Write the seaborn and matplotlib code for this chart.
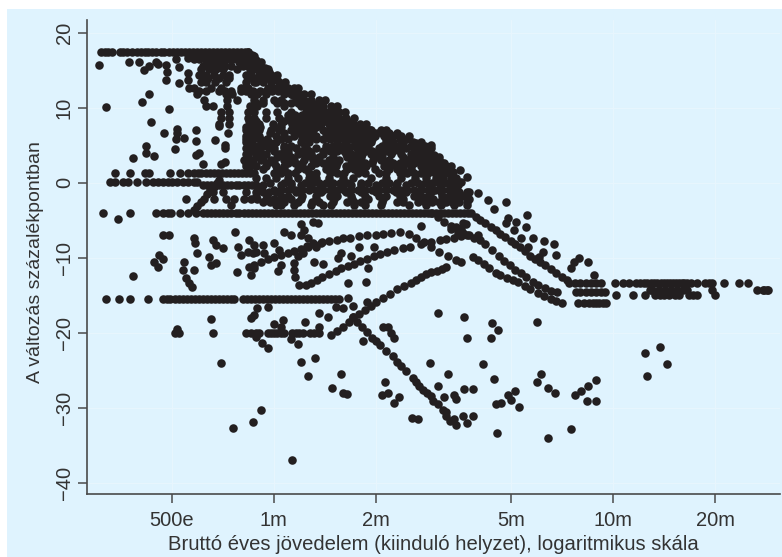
import pandas as pd
import matplotlib.pyplot as plt
from matplotlib.patches import Rectangle
from matplotlib.ticker import NullLocator
import seaborn as sns

# income in million Ft, change in percentage points

# points sitting on flat levels: one level, one list of incomes
flat_levels = [17.5, 1.3, 0.1, -4.0, -15.5, -20.0, -13.3, -14.5, -16.0, -14.9, -14.3]
flat_incomes = [
    [.31, .317, .325, .334, .351, .36, .37, .383, .394, .405, .416, .427, .439, .451, .464, .476, .49, .503, .517,
     .531, .546, .561, .576, .592, .609, .626, .643, .66, .679, .698, .717, .737, .757, .778, .8, .822, .838],
    [.341, .376, .416, .43, .495, .53, .557, .58, .596, .612, .63, .647, .665, .683, .702, .722, .742, .762, .783,
     .805, .827, .85, .873],
    [.33, .34, .36, .372, .394, .42, .44, .455, .47, .487, .5, .52, .54, .56, .58, .595],
    [.313, .376, .45, .47, .487, .497, .53, .557, .59, .62, .637, .655, .673, .691, .71, .73, .75, .771, .792, .814,
     .837, .86, .884, .908, .933, .959, .985, 1.012, 1.04, 1.069, 1.099, 1.129, 1.16, 1.192, 1.225, 1.259, 1.294,
     1.33, 1.367, 1.404, 1.443, 1.483, 1.524, 1.566, 1.609, 1.654, 1.7, 1.747, 1.795, 1.844, 1.895, 1.948, 2.0, 2.06,
     2.11, 2.17, 2.23, 2.29, 2.36, 2.42, 2.49, 2.56, 2.63, 2.7, 2.77, 2.85, 2.93, 3.01, 3.09, 3.18, 3.26, 3.35, 3.44,
     3.54, 3.64, 3.74],
    [.32, .35, .376, .425, .47, .483, .496, .51, .524, .539, .553, .569, .584, .6, .617, .634, .652, .67, .688, .707,
     .727, .747, .762, .81, .832, .855, .879, .903, .928, .954, .98, 1.007, 1.035, 1.063, 1.093, 1.123, 1.154, 1.186,
     1.219, 1.252, 1.287, 1.323, 1.359, 1.397, 1.435, 1.475, 1.516, 1.558],
    [.51, .525, .66, .83, .855, .885, .903, .96, .98, 1.0, 1.02, 1.05, 1.07, 1.13, 1.16, 1.19, 1.22, 1.28, 1.31, 1.36],
    [7.4, 7.7, 8.0, 8.3, 8.6, 8.9, 9.2, 10.1, 10.7, 11.1, 11.7, 12.0, 12.3, 12.6, 12.9, 13.2, 13.5, 13.8, 14.1, 14.4,
     14.7, 15.0, 15.3, 15.6, 15.9, 16.2, 16.5, 16.9, 17.6, 18.6, 19.1, 19.6, 21.2, 23.4, 24.9],
    [7.75, 8.0, 8.3, 8.6, 8.9, 9.2, 9.45],
    [7.9, 8.2, 8.5, 8.7, 8.9, 9.1, 9.3, 9.5],
    [10.2, 11.4, 12.4, 13.3, 13.7, 14.1, 14.6, 15.2, 15.6, 16.7, 17.2, 17.7, 20.0],
    [12.8, 13.0, 13.6, 14.2, 14.8, 15.4, 16.0, 16.5, 19.6, 26.5, 27.7, 27.9, 28.3, 28.6],
]

# the dense wedge under the cap, scanned row by row
wedge_levels = [16.9, 16.1, 15.2, 14.4, 13.4, 12.7, 11.8, 11.1, 10.2, 9.5, 8.6, 7.9, 7.1, 6.2, 5.5, 4.6, 3.9, 3.1,
                2.2, 0.6, -0.3, -1.2, -2.1, -3.0,
                9.0, 7.5, 5.9, 4.2, 2.6, 1.3, -0.9, -1.7,
                10.6, 8.2, 6.6, 4.9, 3.5, 1.9, 0.0, -2.6,
                16.5, 15.6, 14.0, 12.2]
wedge_incomes = [
    [.609, .643, .674, .707, .737, .777, .816, .838, .873],
    [.63, .66, .688, .707, .788, .838, .885, .915],
    [.609, .643, .674, .707, .777, .85, .885, .928, .96],
    [.6, .63, .665, .707, .737, .827, .855, .903, .935, .98, 1.02],
    [.609, .63, .67, .722, .827, .873, .885, .928, .98, 1.034, 1.08],
    [.561, .58, .652, .698, .799, .838, .96, 1.0, 1.049, 1.1, 1.145, 1.18],
    [.592, .722, .755, .855, .893, .947, 1.07, 1.122, 1.177, 1.226, 1.286],
    [.622, .73, .777, .873, .928, 1.0, 1.05, 1.161, 1.226, 1.286, 1.358, 1.414],
    [.63, .66, .73, .85, .89, 1.07, 1.201, 1.268, 1.33, 1.395, 1.47, 1.53],
    [.7, .737, .838, .873, .947, 1.02, 1.12, 1.245, 1.29, 1.36, 1.42, 1.49, 1.555, 1.62],
    [.698, .737, .838, .873, .947, 1.034, 1.145, 1.201, 1.268, 1.33, 1.395, 1.473, 1.555, 1.632, 1.72],
    [.688, .737, .855, .903, .993, 1.049, 1.13, 1.201, 1.304, 1.376, 1.453, 1.534, 1.62, 1.71, 1.8, 1.87],
    [.827, .873, .903, .98, 1.034, 1.12, 1.2, 1.3, 1.395, 1.493, 1.577, 1.665, 1.758, 1.85, 1.934, 2.07, 2.14],
    [.827, .873, .905, 1.014, 1.145, 1.226, 1.33, 1.453, 1.524, 1.6, 1.688, 1.782, 1.88, 1.98, 2.11, 2.25, 2.37, 2.5],
    [.827, .855, .915, .967, 1.014, 1.201, 1.268, 1.534, 1.632, 1.734, 1.83, 1.934, 2.14, 2.25, 2.4, 2.57, 2.72],
    [.827, .855, .903, .967, 1.0, 1.07, 1.161, 1.243, 1.33, 1.577, 1.665, 1.758, 1.869, 2.04, 2.14, 2.29, 2.45, 2.62,
     2.81, 2.91],
    [.827, .838, .885, .947, 1.034, 1.049, 1.1, 1.177, 1.286, 1.395, 1.632, 1.688, 1.82, 1.934, 2.22, 2.37, 2.54,
     2.72, 2.87],
    [.816, .855, .915, .98, 1.07, 1.145, 1.226, 1.304, 1.453, 1.555, 1.71, 1.96, 2.07, 2.19, 2.45, 2.62, 2.81, 2.95,
     3.07],
    [.827, .885, .947, 1.014, 1.07, 1.286, 1.453, 1.524, 1.632, 1.87, 2.11, 2.29, 2.54, 2.72, 2.91, 3.07, 3.22, 3.33],
    [.885, .947, 1.014, 1.1, 1.177, 1.268, 1.33, 1.453, 1.598, 1.711, 1.934, 2.14, 2.37, 2.6, 2.81, 3.01, 3.16, 3.33,
     3.45],
    [.62, .637, .655, .673, .691, .71, .73, .75, .771, .792, .814, .837, .86, .884, .928, 1.049, 1.122, 1.2, 1.286,
     1.376, 1.473, 1.577, 1.688, 1.81, 2.0, 2.14, 2.29, 2.45, 2.72, 2.91, 3.11, 3.33, 3.5],
    [.66, .707, .827, .885, .928, .967, 1.014, 1.161, 1.376, 1.524, 1.632, 1.806, 2.0, 2.29, 2.45, 2.62, 2.91, 3.11,
     3.33, 3.52, 3.7],
    [.55, .665, .722, .762, .816, .855, .893, .947, 1.0, 1.122, 1.2, 1.33, 1.5, 1.7, 1.9, 2.1, 2.4, 2.7, 2.95, 3.2,
     3.45, 3.75],
    [.75, 1.014, 1.05, 1.145, 1.286, 1.395, 1.473, 1.72, 1.85, 2.07, 2.5, 2.8, 3.1, 3.4, 3.7],
    # second pass through the darkest part
    [1.1, 1.153, 1.209, 1.33, 1.395, 1.463, 1.534],
    [.827, .867, .909, 1.0, 1.049, 1.153, 1.209, 1.268, 1.33, 1.463, 1.534, 1.609, 1.687, 1.769, 1.856],
    [.827, .867, .909, .954, 1.049, 1.1, 1.209, 1.268, 1.33, 1.395, 1.463, 1.534, 1.609, 1.687, 1.769, 1.856, 1.946,
     2.14, 2.354, 2.469],
    [.867, .909, 1.0, 1.1, 1.209, 1.268, 1.395, 1.463, 1.534, 1.609, 1.769, 1.856, 1.946, 2.04, 2.14, 2.245, 2.354,
     2.589, 2.715, 2.847],
    [.827, .867, .954, 1.0, 1.1, 1.153, 1.209, 1.33, 1.395, 1.463, 1.534, 1.687, 1.769, 1.856, 1.946, 2.14, 2.245,
     2.354, 2.469, 2.589, 2.715, 2.847, 2.986, 3.13],
    [1.0, 1.049, 1.1, 1.153, 1.268, 1.33, 1.463, 1.534, 1.609, 1.769, 1.856, 2.04, 2.14, 2.354, 2.469, 2.589, 2.715,
     2.847, 2.986, 3.13, 3.28],
    [.909, 1.0, 1.049, 1.1, 1.153, 1.209, 1.268, 1.33, 1.395, 1.463, 1.534, 1.609, 1.687, 1.769, 1.856, 1.946, 2.04,
     2.14, 2.245, 2.354, 2.469, 2.589, 2.715, 2.847, 2.986, 3.13, 3.28, 3.44],
    [.885, .954, 1.049, 1.1, 1.209, 1.33, 1.463, 1.534, 1.687, 1.856, 2.04, 2.14, 2.354, 2.589, 2.715, 2.847, 3.13,
     3.28, 3.44, 3.61],
    # third pass, between the rows above
    [.888, .931, 1.024, 1.074, 1.126, 1.181, 1.238, 1.298, 1.362],
    [.847, .888, 1.074, 1.126, 1.181, 1.238, 1.298, 1.362, 1.428, 1.498, 1.571, 1.648],
    [.847, .888, .977, 1.074, 1.181, 1.238, 1.298, 1.428, 1.498, 1.571, 1.648, 1.728, 1.811, 1.9, 1.993, 2.089, 2.191,
     2.299],
    [.847, .888, .931, 1.074, 1.126, 1.238, 1.428, 1.498, 1.571, 1.648, 1.728, 1.811, 1.9, 2.089, 2.191, 2.299, 2.41,
     2.528, 2.651, 2.78],
    [.888, .931, 1.024, 1.126, 1.238, 1.298, 1.362, 1.498, 1.648, 1.728, 1.811, 1.993, 2.089, 2.41, 2.528, 2.651,
     2.78, 2.915, 3.058],
    [.847, .931, 1.024, 1.074, 1.181, 1.238, 1.428, 1.498, 1.648, 1.728, 1.811, 1.993, 2.191, 2.299, 2.41, 2.528,
     2.78, 2.915, 3.058, 3.205],
    [.977, 1.074, 1.126, 1.238, 1.298, 1.362, 1.428, 1.498, 1.571, 1.648, 1.811, 1.9, 2.089, 2.191, 2.299, 2.528,
     2.651, 2.78, 2.915, 3.058, 3.205, 3.359],
    [.931, .977, 1.024, 1.074, 1.181, 1.298, 1.362, 1.498, 1.648, 1.728, 1.811, 2.089, 2.299, 2.41, 2.651, 2.78,
     2.915, 3.058, 3.205, 3.359, 3.523, 3.697],
    # upper left of the wedge
    [.58, .6, .63, .652, .68, .71, .74, .76, .80, .82, .85],
    [.62, .65, .68, .72, .75, .81, .84, .87, .9],
    [.62, .64, .69, .74, .84, .87, .92, .96, 1.0],
    [.6, .63, .69, .72, .75, .8, .83, .87, .91, .95, .99, 1.03, 1.09, 1.13, 1.17],
]

# the bands that look like lines
band_income = {
    'cap_down': [.84, .86, .885, .91, .94, .965, .99, 1.02, 1.05, 1.08, 1.11, 1.14, 1.18, 1.21, 1.26, 1.32, 1.39,
                 1.47, 1.56, 1.66, 1.78, 1.92, 2.05, 2.22, 2.4, 2.62],
    'ramp': [.58, .595, .608, .622, .636, .65, .665, .68, .69],
    'line1': [3.8, 3.95, 4.05, 4.2, 4.35, 4.5, 4.65, 4.8, 5.0, 5.15, 5.3, 5.5, 5.7, 5.9, 6.1, 6.3, 6.55, 6.8, 7.05,
              7.3],
    'line2': [2.91, 3.04, 3.18, 3.33, 3.5, 3.7, 3.88, 4.05, 4.2, 4.4, 4.6, 4.75, 4.95, 5.15, 5.35, 5.55, 5.8, 6.0,
              6.3, 6.55, 6.85],
    'line3': [3.87, 4.0, 4.15, 4.3, 4.5, 4.65, 4.85, 5.05, 5.25, 5.5, 5.7, 6.0, 6.25, 6.55, 6.8, 7.05],
    'rise1': [.873, .915, .96, 1.0, 1.05, 1.1, 1.145, 1.2, 1.26, 1.32, 1.38, 1.45, 1.53, 1.6, 1.68, 1.78, 1.88, 2.0,
              2.1, 2.22, 2.35, 2.5, 2.62, 2.77, 2.91, 3.07, 3.25, 3.45, 3.57],
    'rise2': [1.24, 1.29, 1.34, 1.39, 1.45, 1.52, 1.58, 1.65, 1.72, 1.8, 1.88, 1.97, 2.06, 2.16, 2.26, 2.4, 2.52,
              2.72, 2.9, 3.09, 3.22, 3.4, 3.57, 3.75, 4.0],
    'rise3': [1.47, 1.53, 1.6, 1.66, 1.71, 1.78, 1.85, 1.93, 2.0, 2.1, 2.2, 2.3, 2.42, 2.54, 2.62, 2.72, 2.8, 2.91,
              3.02, 3.12, 3.22],
    'fall': [1.71, 1.76, 1.82, 1.88, 1.94, 2.0, 2.05, 2.14, 2.24, 2.3, 2.37, 2.45, 2.57, 2.62, 2.68, 2.75, 2.83, 2.91,
             2.95, 3.05, 3.16, 3.22, 3.3, 3.45],
}
band_change = {
    'cap_down': [17.5, 17, 16.4, 15.9, 15.3, 14.8, 14.2, 13.7, 13.1, 12.6, 12.1, 11.7, 11.2, 10.8, 10.2, 9.8, 9.2,
                 8.8, 8.3, 7.7, 7.4, 7.0, 6.8, 6.3, 5.7, 5.3],
    'ramp': [-3.6, -3.1, -2.6, -2.1, -1.5, -1, -.5, 0, .4],
    'line1': [-4, -4.5, -4.9, -5.4, -5.9, -6.3, -6.8, -7.2, -7.7, -8.2, -8.6, -9.1, -9.7, -10.2, -10.6, -11, -11.5,
              -12, -12.5, -12.9],
    'line2': [-4, -4.6, -5.2, -5.8, -6.4, -6.9, -7.3, -7.6, -8.2, -9, -9.8, -10.4, -11, -11.6, -12, -12.6, -13.2,
              -13.6, -14, -14.4, -14.5],
    'line3': [-9.9, -10.3, -10.8, -11.3, -12, -12.3, -12.7, -13, -13.2, -13.7, -14.1, -14.7, -15.1, -15.5, -15.8,
              -16],
    'rise1': [-10.9, -10.6, -10.2, -9.9, -9.6, -9.3, -9.1, -8.8, -8.5, -8.3, -8, -7.8, -7.6, -7.4, -7.3, -7.1, -7,
              -6.9, -6.8, -6.7, -6.6, -6.8, -7.4, -7.9, -8.6, -9.2, -9.8, -10.3, -10.6],
    'rise2': [-13.6, -13.3, -12.9, -12.6, -12.1, -11.8, -11.4, -11.1, -10.8, -10.4, -10.1, -9.8, -9.5, -9.2, -9, -8.7,
              -8.5, -8.2, -7.9, -7.6, -7.5, -7.3, -7.1, -7, -7],
    'rise3': [-20.3, -19.8, -19.2, -18.6, -17.9, -17.5, -17, -16.4, -15.9, -15.3, -14.8, -14.2, -13.7, -13.3, -12.9,
              -12.5, -12.2, -11.9, -11.7, -11.5, -11.2],
    'fall': [-17.9, -18.6, -19.2, -19.9, -20.6, -21.1, -21.6, -22.4, -23.1, -23.9, -24.4, -25, -26, -26.5, -27,
             -27.6, -28, -28.4, -29, -29.4, -30.2, -31, -31.7, -32.3],
}

# single points, as (income, change)
upper_left = [(.305, 15.7), (.374, 16.1), (.40, 16.1), (.415, 15.1), (.43, 15.6), (.45, 16.1), (.455, 15.9),
              (.48, 15.7), (.485, 14.8), (.48, 13.7), (.515, 16.5), (.525, 13.3), (.525, 15.5), (.557, 14.7),
              (.56, 13.7), (.557, 16.7), (.597, 16.8), (.43, 11.9), (.41, 10.8), (.32, 10.1), (.49, 9.9),
              (.434, 8.1), (.475, 6.7), (.52, 7.2), (.52, 6.7), (.515, 5.9), (.545, 6.0), (.59, 7.1), (.59, 5.6),
              (.51, 4.5), (.42, 4.9), (.42, 4.0), (.445, 3.6), (.385, 3.3), (.59, 3.7), (.60, 4.0), (.67, 5.7),
              (.72, 5.0), (.72, 4.7), (.735, 6.7), (.69, 7.6), (.62, 2.5), (.72, 2.8), (.70, 2.5), (.347, -4.8)]
lower_left = [(.385, -12.4), (.458, -9.6), (.473, -10.1), (.445, -10.5), (.455, -11.2), (.542, -10.5), (.54, -11.6),
              (.58, -11.6), (.592, -9.3), (.643, -9.9), (.674, -10.7), (.652, -11), (.777, -11.9), (.55, -12.7),
              (.561, -13.3), (.573, -13.9), (.473, -6.9), (.49, -6.9), (.58, -7.3), (.587, -8), (.66, -7.6),
              (.674, -8.3), (.71, -8.7), (.783, -8.5), (.844, -7.6), (.873, -8.3), (.928, -8.3), (1.0, -8),
              (.799, -9.6), (.838, -9.2), (.867, -9.3), (.885, -9.2), (.934, -9.3), (1.034, -8.9), (1.07, -6.5),
              (1.122, -6.9), (.767, -6.5), (.844, -11.2), (.873, -11.3), (.855, -12.3), (1.027, -11.7), (1.049, -11),
              (1.145, -10.7), (1.145, -11.6), (1.153, -12.5), (1.313, -10.5), (1.395, -10.8), (1.546, -10),
              (1.577, -9.3), (1.688, -9.7), (1.782, -8.5), (1.97, -8.5), (1.895, -11.3), (1.653, -13.3),
              (1.869, -13.2), (1.185, -13.6), (1.2, -7), (1.226, -6.3), (1.26, -7.3), (1.3, -8), (1.25, -8.4),
              (1.33, -8.5), (1.39, -7.9), (1.2, -5.5), (1.3, -5.2), (1.35, -5.4), (1.22, -9.3), (1.18, -9.7)]
under_row = [(.89, -16.7), (.873, -17.6), (.855, -18), (.96, -16.5), (.655, -18.1), (1.063, -18.3), (1.0, -18.8),
             (1.049, -19.2), (1.235, -18.5), (1.358, -17.3), (1.443, -17.9), (1.358, -19.2), (1.653, -15.3),
             (1.711, -16.4), (1.524, -16.5), (1.598, -16.7), (1.88, -15.9), (.885, -20.5), (.922, -21.3), (.96, -22),
             (1.122, -20.8), (1.177, -21.5), (.52, -19.5)]
far_below = [(1.201, -23.9), (1.32, -23.3), (1.26, -25.7), (1.577, -25.5), (1.483, -27.3), (1.598, -28),
             (1.642, -28.1), (2.13, -26.5), (2.09, -28.3), (2.17, -28), (2.34, -28.5), (2.26, -29.3), (2.55, -31.3),
             (2.66, -31.5), (1.83, -21.1), (2.1, -19.2), (2.17, -19.2), (2.22, -20), (2.26, -20.7), (.698, -24),
             (.915, -30.3), (.867, -31.9), (.757, -32.7), (1.13, -36.9)]
right_low = [(3.05, -17.3), (3.64, -17.9), (4.4, -18.7), (4.58, -19.6), (3.72, -20.7), (4.37, -20.7), (5.97, -18.5),
             (2.89, -24), (4.14, -24.1), (3.26, -25.5), (4.46, -26.1), (6.14, -25.5), (5.97, -26.5), (6.44, -27.3),
             (6.75, -28), (5.14, -27.7), (4.9, -28.3), (4.68, -29.3), (4.52, -29.5), (5.0, -28.9), (5.29, -29.8),
             (8.91, -26.3), (8.44, -27), (8.06, -27.7), (7.74, -28.3), (8.39, -29), (8.91, -29), (3.87, -27.5),
             (3.64, -27.5), (3.4, -28.3), (3.45, -28.8), (3.17, -28.5), (3.22, -30.5), (3.4, -31.5), (3.6, -31.1),
             (3.85, -31.1), (3.72, -32), (4.55, -33.3), (6.42, -34), (7.53, -32.8), (12.4, -22.7), (13.75, -21.8),
             (14.4, -24.1), (12.6, -25.7), (3.05, -27.1)]
right_high = [(2.91, 5.1), (2.97, 3.7), (3.17, 2.7), (2.97, 2.1), (3.07, 2.0), (3.38, 1.5), (3.53, 1.7), (3.72, .8),
              (3.57, .1), (3.38, 0), (3.38, -1), (3.75, -1.2), (4.0, -1.3), (4.29, -2.3), (4.46, -3.5), (4.84, -2.5),
              (5.58, -4.3), (4.9, -4.7), (4.84, -5.3), (5.18, -5.2), (5.54, -5.9), (5.1, -6.3), (5.8, -7.3),
              (5.36, -7.3), (5.6, -8.5), (6.26, -7.7), (6.7, -8.1), (6.2, -9.2), (6.04, -9.9), (6.8, -9.6),
              (7.95, -10), (7.66, -10.6), (7.53, -11.4), (8.44, -10.6), (8.75, -12.3), (3.45, -5.9), (3.57, -6.2),
              (3.6, -5.3), (3.69, -5.5), (3.5, -6.8), (3.62, -6.7), (3.33, -6.1), (2.72, -5.8)]

# tick labels of the picture
x_ticks = [.5, 1, 2, 5, 10, 20]
x_tick_labels = ['500e', '1m', '2m', '5m', '10m', '20m']
y_ticks = [-40, -30, -20, -10, 0, 10, 20]

rows = []
for level, incomes in zip(flat_levels, flat_incomes):
    rows += [(inc, level) for inc in incomes]
for level, incomes in zip(wedge_levels, wedge_incomes):
    rows += [(inc, level) for inc in incomes]
for name in band_income:
    rows += list(zip(band_income[name], band_change[name]))
rows += upper_left + lower_left + under_row + far_below + right_low + right_high
df = pd.DataFrame(rows, columns=['jovedelem', 'valtozas'])

sns.set_theme(style='ticks')
plt.rcParams['font.family'] = ['Liberation Sans', 'DejaVu Sans']

dark = '#231f20'
edge = '#4a4a4a'
text = '#333333'

fig = plt.figure(figsize=(7.82, 5.57), dpi=100, facecolor='white')
# blue panel stops short of the top and left edge
fig.patches.append(Rectangle((7 / 782, 0), 775 / 782, 548 / 557, transform=fig.transFigure,
                             facecolor='#dff3fe', edgecolor='none', zorder=-1))
ax = fig.add_axes([87 / 782, 63 / 557, 693 / 782, 474 / 557], facecolor='none')

ax.set_xscale('log')
sns.scatterplot(data=df, x='jovedelem', y='valtozas', color=dark, s=38, linewidth=0, alpha=1, ax=ax, clip_on=False)

ax.set_xlim(.2815, 31.0)
ax.set_ylim(-41.45, 21.7)
ax.set_xticks(x_ticks)
ax.set_xticklabels(x_tick_labels)
ax.xaxis.set_minor_locator(NullLocator())
ax.set_yticks(y_ticks)
ax.set_xlabel('Bruttó éves jövedelem (kiinduló helyzet), logaritmikus skála', fontsize=14.6, color=text, labelpad=3)
ax.set_ylabel('A változás százalékpontban', fontsize=14, color=text, labelpad=8, y=0.489)
ax.tick_params(axis='x', length=6.5, width=1.1, color=edge, labelsize=14.5, labelcolor=text, pad=6)
ax.tick_params(axis='y', length=6.5, width=1.1, color=edge, labelsize=14.5, labelcolor=text, pad=3)
for lab in ax.get_yticklabels():
    lab.set_rotation(90)
    lab.set_va('center')

ax.grid(True, color='#e7f5fd', linewidth=0.8)
ax.set_axisbelow(True)
sns.despine(ax=ax)
ax.spines['left'].set_color(edge)
ax.spines['bottom'].set_color(edge)
ax.spines['left'].set_linewidth(1.2)
ax.spines['bottom'].set_linewidth(1.2)

fig.savefig('out.png', dpi=100, facecolor='white')
